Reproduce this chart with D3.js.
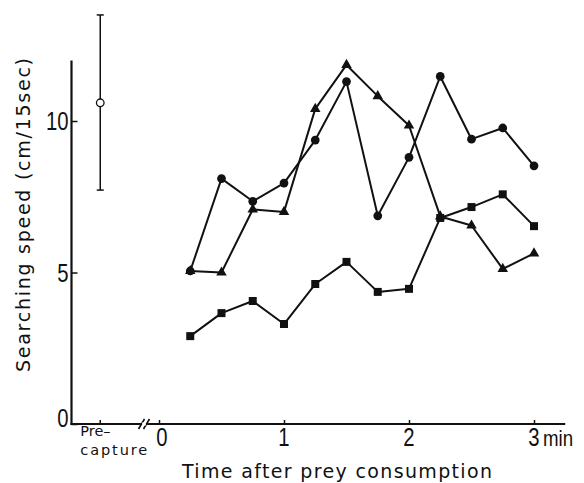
<!DOCTYPE html>
<html lang="en">
<head>
  <meta charset="UTF-8" />
  <title>Searching speed after prey consumption</title>
  <script src="https://d3js.org/d3.v7.min.js"></script>
  <style>
    body {margin: 0; background: #fff;}
    svg {display: block;}
    .label {font-family: "DejaVu Sans", sans-serif; fill: #111;}
    .num {font-family: "Liberation Sans", "DejaVu Sans", sans-serif; fill: #111;}
  </style>
</head>
<body>
<script>
  // ****DATA****
  const times = [0.25, 0.5, 0.75, 1, 1.25, 1.5, 1.75, 2, 2.25, 2.5, 2.75, 3];
  const circleSeries   = [5.05, 8.1, 7.35, 7.95, 9.37, 11.3, 6.87, 8.8, 11.47, 9.4, 9.77, 8.52];
  const triangleSeries = [5.05, 5.0, 7.08, 7.0, 10.4, 11.85, 10.82, 9.85, 6.85, 6.55, 5.12, 5.63];
  const squareSeries   = [2.9, 3.66, 4.06, 3.3, 4.62, 5.35, 4.36, 4.46, 6.8, 7.16, 7.58, 6.53];
  const precapture = {mean: 10.6, low: 7.72, high: 13.5};
  const yTicks = [0, 5, 10];
  const xTicks = [0, 1, 2, 3];

  //****SVG CANVAS****
  const width = 584;
  const height = 483;
  const svg = d3.select("body").append("svg")
                .attr("width", width)
                .attr("height", height);

  //****SCALES****
  const precapPos = -0.47;   // where the pre-capture column sits on the time axis
  const xScale = d3.scaleLinear().domain([0, 3]).range([159, 534]);
  const yScale = d3.scaleLinear().domain([0, 10]).range([424, 121]);

  const ink = "#111";
  const narrow = 0.78; // condensed look of the digits

  //****AXES****
  // y axis: ticks pointing inwards
  const yAxis = d3.axisRight(yScale).tickValues(yTicks).tickSize(6).tickFormat("");
  const gy = svg.append("g").attr("transform", `translate(${xScale(-0.7)},0)`).call(yAxis);
  gy.select(".domain").remove();
  gy.selectAll("line").attr("stroke", ink).attr("stroke-width", 1.5);
  svg.append("line")
     .attr("x1", xScale(-0.7)).attr("x2", xScale(-0.7))
     .attr("y1", yScale(0) + 1).attr("y2", yScale(12))
     .attr("stroke", ink).attr("stroke-width", 2.2);

  svg.selectAll(".ylab").data(yTicks).join("text")
     .attr("class", "num ylab")
     .attr("transform", d => `translate(${xScale(-0.7) - 3},${yScale(d) + (d === 0 ? 3 : 9)}) scale(${narrow},1)`)
     .attr("text-anchor", "end")
     .attr("font-size", 26)
     .text(d => d);

  // x axis
  const xAxis = d3.axisTop(xScale).tickValues(xTicks).tickSize(4).tickFormat("");
  const gx = svg.append("g").attr("transform", `translate(0,${yScale(0)})`).call(xAxis);
  gx.select(".domain").remove();
  gx.selectAll("line").attr("stroke", ink).attr("stroke-width", 1.5);
  svg.append("line")
     .attr("x1", xScale(-0.7) - 1).attr("x2", xScale(3.25))
     .attr("y1", yScale(0)).attr("y2", yScale(0))
     .attr("stroke", ink).attr("stroke-width", 2.2);
  // pre-capture tick
  svg.append("line")
     .attr("x1", xScale(precapPos)).attr("x2", xScale(precapPos))
     .attr("y1", yScale(0)).attr("y2", yScale(0) - 4)
     .attr("stroke", ink).attr("stroke-width", 1.5);

  // axis break marks
  [-0.14, -0.1].forEach(t => {
    svg.append("line")
       .attr("x1", xScale(t) - 3).attr("y1", yScale(0) + 5)
       .attr("x2", xScale(t) + 3).attr("y2", yScale(0) - 5)
       .attr("stroke", ink).attr("stroke-width", 1.6);
  });
  svg.append("rect")
     .attr("x", xScale(-0.135)).attr("y", yScale(0) - 1.5)
     .attr("width", xScale(-0.105) - xScale(-0.135)).attr("height", 3)
     .attr("fill", "#fff");

  svg.selectAll(".xlab").data(xTicks).join("text")
     .attr("class", "num xlab")
     .attr("transform", d => `translate(${xScale(d) + (d === 0 ? 3 : 0)},${yScale(0) + 22}) scale(${narrow},1)`)
     .attr("text-anchor", "middle")
     .attr("font-size", 26)
     .text(d => d);
  svg.append("text").attr("class", "num")
     .attr("transform", `translate(${xScale(3) + 9},${yScale(0) + 22}) scale(0.85,1)`)
     .attr("font-size", 22)
     .text("min");

  // two-line category label under the pre-capture tick
  svg.append("text").attr("class", "label")
     .attr("x", xScale(precapPos) - 20).attr("y", yScale(0) + 12)
     .attr("font-size", 14.5)
     .text("Pre\u2013");
  svg.append("text").attr("class", "label")
     .attr("x", xScale(precapPos) - 20).attr("y", yScale(0) + 31)
     .attr("font-size", 14.5)
     .attr("textLength", 67).attr("lengthAdjust", "spacing")
     .text("capture");

  // axis titles
  svg.append("text").attr("class", "label")
     .attr("x", 182).attr("y", 478)
     .attr("font-size", 19)
     .attr("textLength", 310).attr("lengthAdjust", "spacing")
     .text("Time after prey consumption");

  svg.append("text").attr("class", "label")
     .attr("transform", "translate(30,372) rotate(-90)")
     .attr("font-size", 19)
     .attr("textLength", 314).attr("lengthAdjust", "spacing")
     .text("Searching  speed  (cm/15sec)");

  //****PRE-CAPTURE ERROR BAR****
  const px = xScale(precapPos);
  svg.append("line")
     .attr("x1", px).attr("x2", px)
     .attr("y1", yScale(precapture.low)).attr("y2", yScale(precapture.high))
     .attr("stroke", ink).attr("stroke-width", 1.5);
  [precapture.low, precapture.high].forEach(v => {
    svg.append("line")
       .attr("x1", px - 3.5).attr("x2", px + 3.5)
       .attr("y1", yScale(v)).attr("y2", yScale(v))
       .attr("stroke", ink).attr("stroke-width", 1.5);
  });
  svg.append("circle")
     .attr("cx", px).attr("cy", yScale(precapture.mean)).attr("r", 3.8)
     .attr("fill", "#fff").attr("stroke", ink).attr("stroke-width", 1.3);

  //****LINES AND MARKERS****
  const lineGenerator = d3.line()
                          .x((d, i) => xScale(times[i]))
                          .y(d => yScale(d));

  const series = [
    {values: squareSeries, symbol: d3.symbolSquare, size: 64},
    {values: triangleSeries, symbol: d3.symbolTriangle, size: 48},
    {values: circleSeries, symbol: d3.symbolCircle, size: 60}
  ];

  series.forEach(s => {
    svg.append("path")
       .attr("d", lineGenerator(s.values))
       .attr("fill", "none")
       .attr("stroke", ink)
       .attr("stroke-width", 2)
       .attr("stroke-linejoin", "round");
    svg.selectAll(null).data(s.values).join("path")
       .attr("transform", (d, i) => `translate(${xScale(times[i])},${yScale(d)})`)
       .attr("d", d3.symbol().type(s.symbol).size(s.size))
       .attr("fill", ink);
  });
</script>
</body>
</html>
